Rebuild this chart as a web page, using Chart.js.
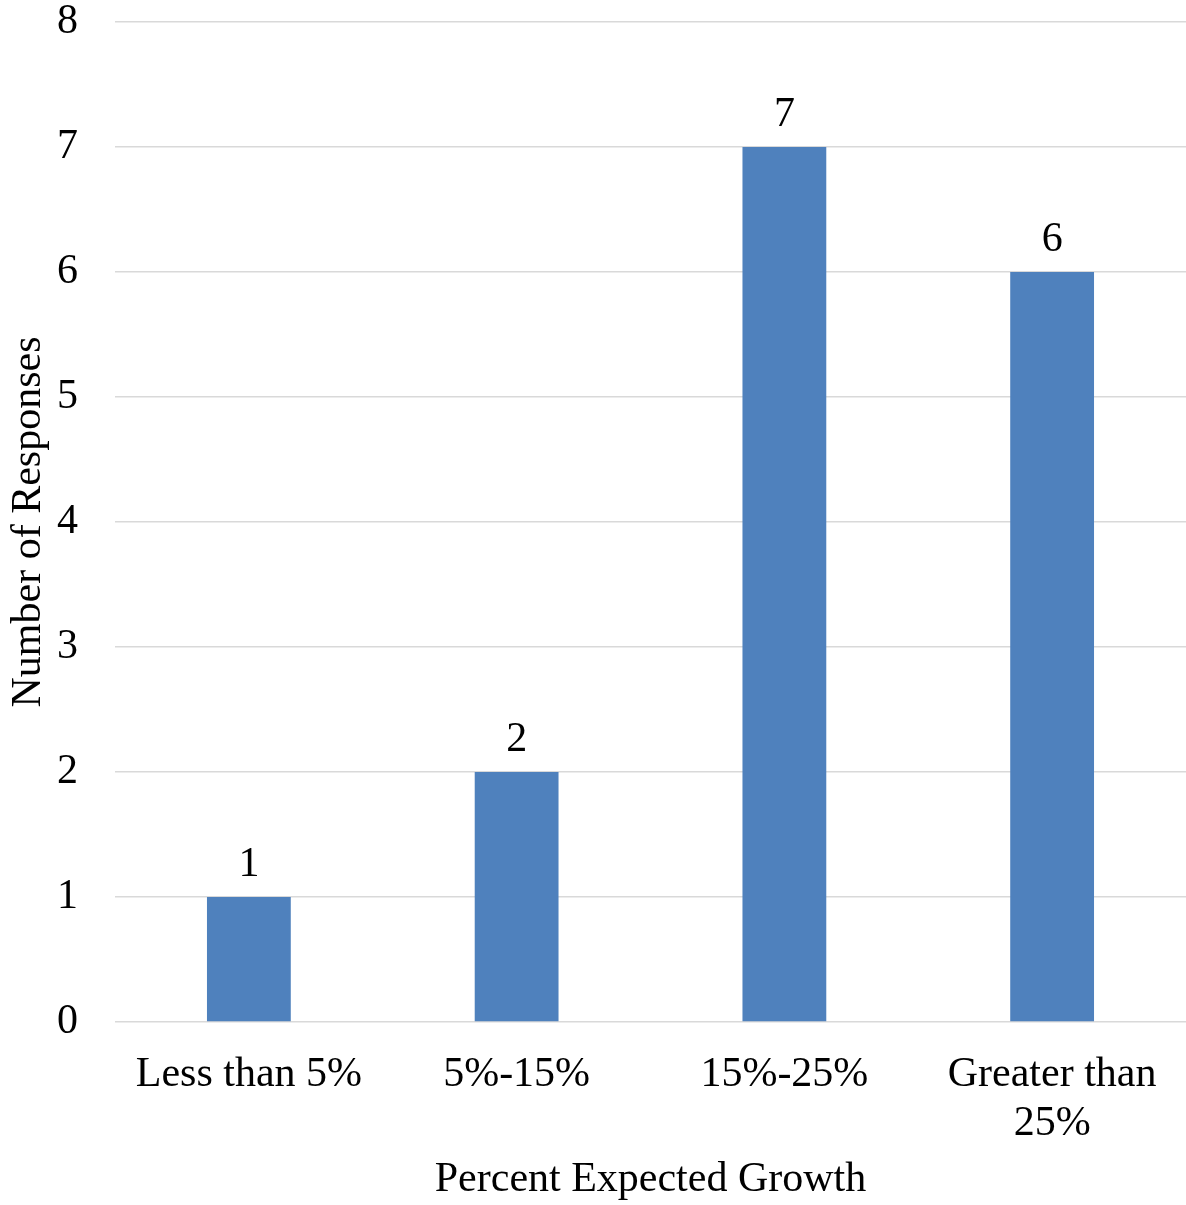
<!DOCTYPE html>
<html>
<head>
<meta charset="utf-8">
<script src="https://cdn.jsdelivr.net/npm/chart.js@4/dist/chart.umd.min.js"></script>
<style>
  html, body { margin: 0; padding: 0; background: #ffffff; }
  #wrap { width: 1186px; height: 1205px; position: relative; }
</style>
</head>
<body>
<div id="wrap"><canvas id="chart"></canvas></div>
<script>
// Survey results: expected growth ranges and how many respondents chose each
const categories = [['Less than 5%'], ['5%-15%'], ['15%-25%'], ['Greater than', '25%']];
const responses = [1, 2, 7, 6];
const yTicks = [0, 1, 2, 3, 4, 5, 6, 7, 8];

const FONT = "'Liberation Serif', 'Times New Roman', serif";

// Writes each bar's value just above its top edge
const valueLabels = {
  id: 'valueLabels',
  afterDatasetsDraw(chart) {
    const ctx = chart.ctx;
    const meta = chart.getDatasetMeta(0);
    ctx.save();
    ctx.font = '42px ' + FONT;
    ctx.fillStyle = '#000000';
    ctx.textAlign = 'center';
    ctx.textBaseline = 'alphabetic';
    meta.data.forEach((bar, i) => {
      ctx.fillText(String(responses[i]), bar.x, bar.y - 21);
    });
    ctx.restore();
  }
};

new Chart(document.getElementById('chart'), {
  type: 'bar',
  data: {
    labels: categories,
    datasets: [{
      data: responses,
      backgroundColor: '#4F81BD',
      borderWidth: 0,
      categoryPercentage: 1.0,
      barPercentage: 0.313
    }]
  },
  options: {
    responsive: true,
    maintainAspectRatio: false,
    animation: false,
    layout: { padding: { top: 22, right: 0, left: 0, bottom: 0 } },
    plugins: {
      legend: { display: false },
      tooltip: { enabled: false }
    },
    scales: {
      x: {
        grid: { display: false, drawTicks: false },
        border: { display: false },
        ticks: {
          color: '#000000',
          font: { family: FONT, size: 42, lineHeight: 1.17 },
          padding: 28,
          maxRotation: 0,
          autoSkip: false
        },
        title: {
          display: true,
          text: 'Percent Expected Growth',
          color: '#000000',
          font: { family: FONT, size: 42, lineHeight: 1.17 },
          padding: { top: 12, bottom: 0 }
        },
        afterFit(scale) { scale.height = 183; }
      },
      y: {
        min: 0,
        max: 8,
        afterBuildTicks(scale) { scale.ticks = yTicks.map(v => ({ value: v })); },
        grid: { color: '#D9D9D9', lineWidth: 1.5, drawTicks: false, tickLength: 0 },
        border: { display: false },
        ticks: {
          color: '#000000',
          font: { family: FONT, size: 42 },
          padding: 37
        },
        title: {
          display: true,
          text: 'Number of Responses',
          color: '#000000',
          font: { family: FONT, size: 42, lineHeight: 1.0 },
          padding: { top: 8, bottom: 0 }
        },
        afterFit(scale) {
          scale.width = 115;
          scale.paddingTop = 0;
          scale.paddingBottom = 0;
        }
      }
    }
  },
  plugins: [valueLabels]
});
</script>
</body>
</html>
